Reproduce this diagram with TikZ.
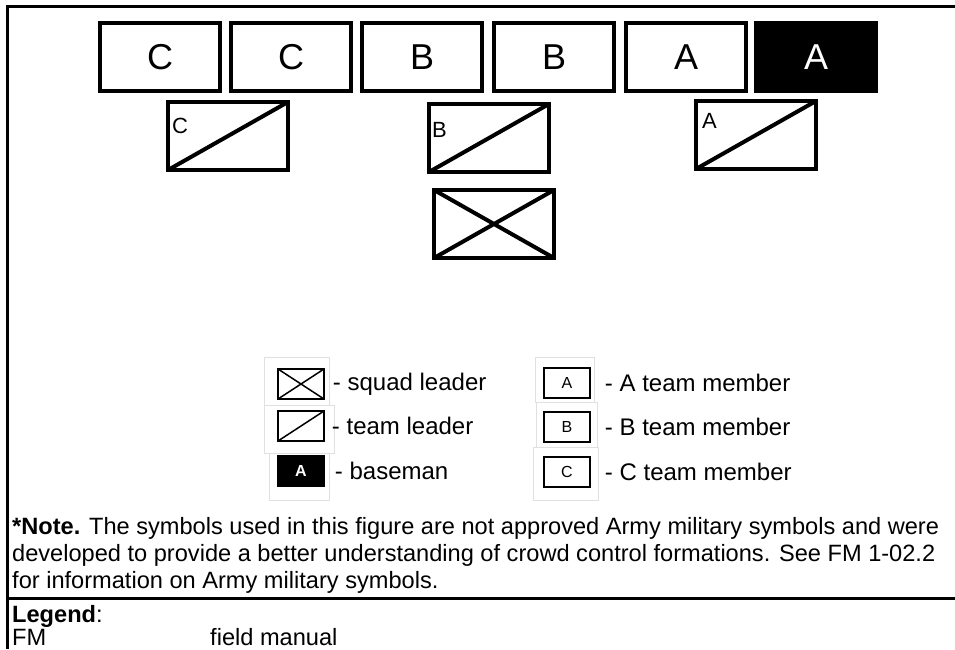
\documentclass[tikz,border=0pt]{standalone}
\usepackage{fontspec}
\setmainfont{Liberation Sans}
\usetikzlibrary{positioning}

\begin{document}
\begin{tikzpicture}[
  x=1pt, y=-1pt,
  member/.style={draw, line width=4pt, minimum width=120pt, minimum height=68pt, inner sep=0pt, font=\fontsize{36}{40}\selectfont},
  baseman/.style={member, fill=black, text=white},
  tleader/.style={draw, line width=4pt, minimum width=120pt, minimum height=68pt, inner sep=0pt,
    path picture={\draw[line width=4pt] (path picture bounding box.south west) -- (path picture bounding box.north east);}},
  sleader/.style={draw, line width=4pt, minimum width=120pt, minimum height=68pt, inner sep=0pt,
    path picture={\draw[line width=4pt] (path picture bounding box.south west) -- (path picture bounding box.north east)
      (path picture bounding box.north west) -- (path picture bounding box.south east);}},
  tlabel/.style={anchor=north west, inner sep=0pt, font=\fontsize{22}{24}\selectfont},
  lgicon/.style={draw, line width=1.5pt, minimum width=46pt, minimum height=30pt, inner sep=0pt, font=\fontsize{16}{18}\selectfont},
  lgsleader/.style={lgicon, path picture={\draw[line width=1.5pt] (path picture bounding box.south west) -- (path picture bounding box.north east)
      (path picture bounding box.north west) -- (path picture bounding box.south east);}},
  lgtleader/.style={lgicon, path picture={\draw[line width=1.5pt] (path picture bounding box.south west) -- (path picture bounding box.north east);}},
  lgbase/.style={lgicon, fill=black, text=white, font=\fontsize{16}{18}\selectfont\bfseries},
  lgtext/.style={anchor=west, inner sep=0pt, font=\fontsize{24}{28}\selectfont},
  notetext/.style={inner sep=0pt, font=\fontsize{23.6}{27}\selectfont},
  imgframe/.style={draw=black!12, line width=0.8pt},
  frame/.style={line width=3pt}
]
  \useasboundingbox (0,0) rectangle (955,649);

  % Frame
  \draw[frame] (7,649) -- (7,6) -- (955,6);
  \draw[frame] (7,598) -- (955,598);

  % Team members
  \node[member] (c1) at (160,57) {C};
  \node[member] (c2) at (291,57) {\raisebox{-4pt}{C}};
  \node[member] (b1) at (422,57) {B};
  \node[member] (b2) at (554,57) {B};
  \node[member] (a1) at (686,57) {A};
  \node[baseman] (a2) at (816,57) {\raisebox{-3pt}{A}};

  % Team leaders
  \node[tleader] (tlc) at (228,136) {};
  \node[tleader] (tlb) at (489,138) {};
  \node[tleader] (tla) at (756,135) {};
  \node[tlabel] (tlclab) at ([shift={(6,18)}]tlc.north west) {C};
  \node[tlabel] (tlblab) at ([shift={(5,20)}]tlb.north west) {B};
  \node[tlabel] (tlalab) at ([shift={(8,14)}]tla.north west) {A};

  % Squad leader
  \node[sleader] (sl) at (494,224) {};

  % Legend symbols
  \draw[imgframe] (264,357) rectangle (329,405);
  \draw[imgframe] (264,405) rectangle (334,453);
  \draw[imgframe] (269,453) rectangle (329,500);
  \draw[imgframe] (535,357) rectangle (594,402);
  \draw[imgframe] (536,402) rectangle (597,447);
  \draw[imgframe] (533,447) rectangle (598,500);

  \node[lgsleader] (lsl) at (301,384) {};
  \node[lgtleader] (ltl) at (301,426) {};
  \node[lgbase] (lbm) at (301,471) {A};
  \node[lgicon] (lam) at (567,383) {A};
  \node[lgicon] (lbmem) at (567,427) {\raisebox{-3pt}{B}};
  \node[lgicon] (lcm) at (567,472) {\raisebox{-4pt}{C}};

  \node[lgtext, right=8pt of lsl] (lsltxt) {- squad leader};
  \node[lgtext, right=7pt of ltl] (ltltxt) {- team leader};
  \node[lgtext, right=10pt of lbm] (lbmtxt) {- baseman};
  \node[lgtext, right=14pt of lam] (lamtxt) {- A team member};
  \node[lgtext, right=14pt of lbmem] (lbmemtxt) {- B team member};
  \node[lgtext, right=14pt of lcm] (lcmtxt) {- C team member};

  % Note
  \node[notetext, anchor=north west, align=left] (note) at (12,517)
    {\textbf{*Note.} The symbols used in this figure are not approved Army military symbols and were\\
     developed to provide a better understanding of crowd control formations. See FM 1-02.2\\
     for information on Army military symbols.};

  % Legend
  \node[notetext, anchor=base west] (leghead) at (12,622) {\textbf{Legend}:};
  \node[notetext, anchor=base west] (fm) at (12,645) {FM};
  \node[notetext, anchor=base west] (fmdef) at (210,645) {field manual};
\end{tikzpicture}
\end{document}
